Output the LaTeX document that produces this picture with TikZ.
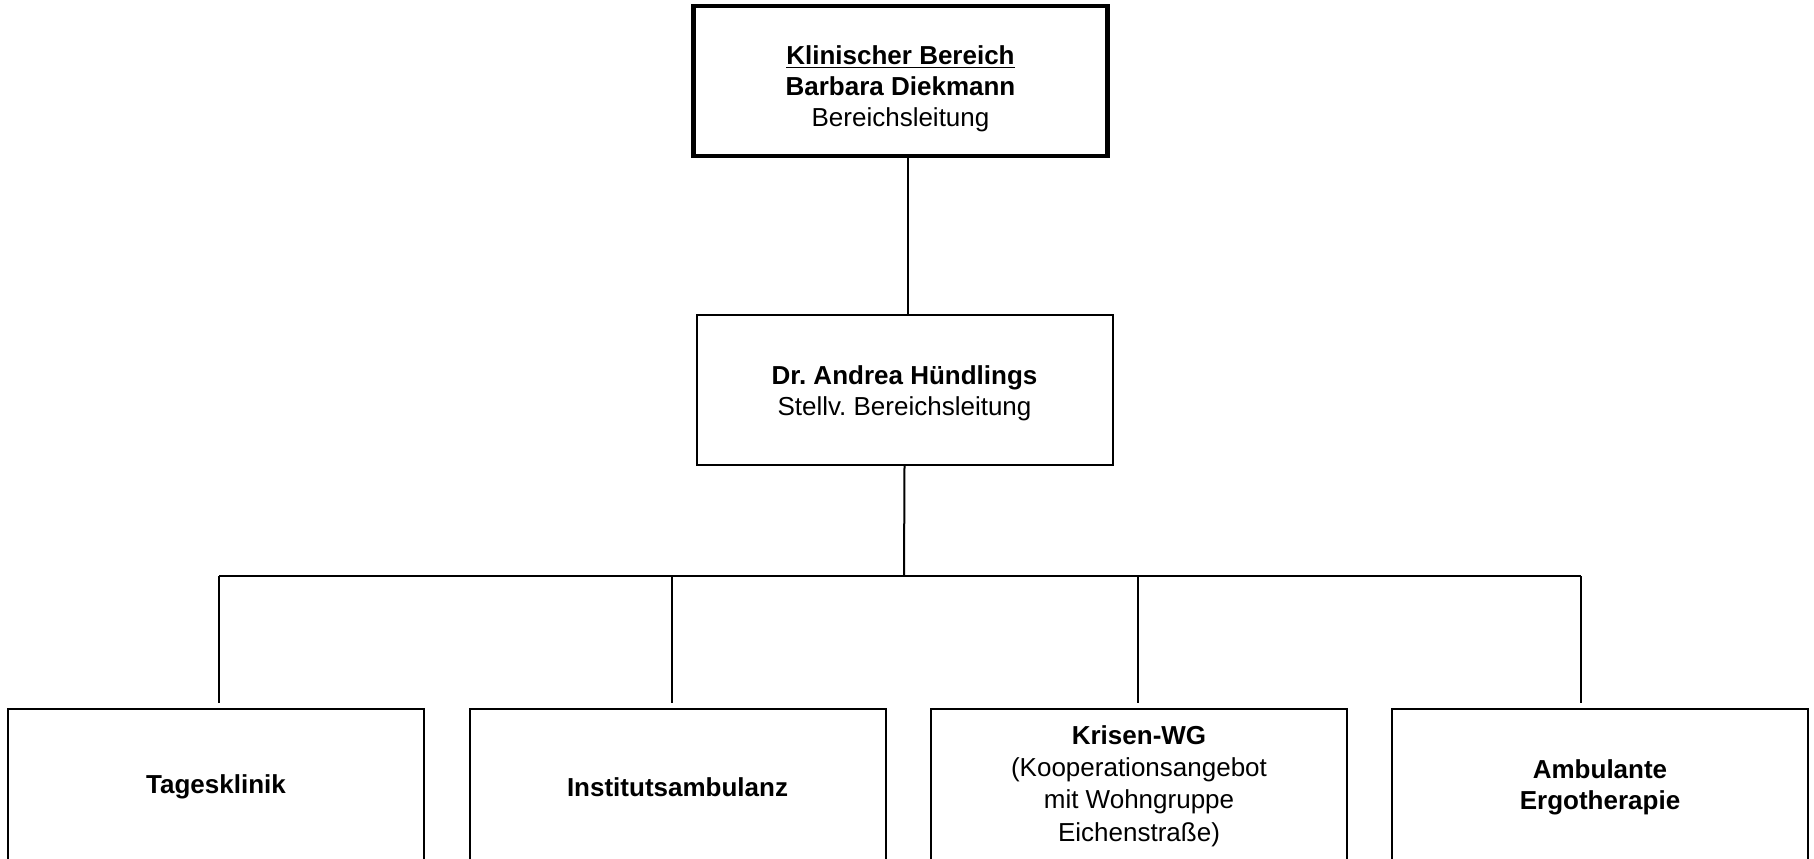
\documentclass[tikz,border=0pt]{standalone}
\usepackage{fontspec}
\setmainfont{Liberation Sans}
\usetikzlibrary{positioning}
\frenchspacing

\tikzset{
  unit/.style={draw, line width=1pt, minimum width=208pt, minimum height=75pt, inner sep=0pt},
  head/.style={unit, line width=2.3pt, minimum width=207pt},
  cut/.style={unit, minimum height=78pt},
  txt/.style={inner sep=0pt, align=center, font=\fontsize{13}{15.5}\selectfont},
  link/.style={line width=1pt}
}

\begin{document}
\begin{tikzpicture}[x=0.5pt, y=-0.5pt]
		\useasboundingbox (0,0) rectangle (1814,858);
		
		% draw boxes
		\node[head] (kb) at (900.5,81) {};
		\node[unit] (stv) at (904.5,389.5) {};
		\node[cut] (tk) at (216,787) {};
		\node[cut] (ia) at (677.5,787) {};
		\node[cut] (kwg) at (1139,787) {};
		\node[cut] (ergo) at (1600,787) {};
		
		% draw texts
		\node[txt] (kb-t) at ([yshift=-4pt]kb.center) {\underline{\textbf{Klinischer Bereich}}\\ \textbf{Barbara Diekmann}\\ Bereichsleitung};
		\node[txt] (stv-t) at ([yshift=-2pt]stv.center) {\textbf{Dr. Andrea Hündlings}\\ Stellv. Bereichsleitung};
		\node[txt] (tk-t) at (tk.center) {\textbf{Tagesklinik}};
		\node[txt] (ia-t) at (ia.center) {\textbf{Institutsambulanz}};
		\node[txt, font=\fontsize{13}{16.2}\selectfont] (kwg-t) at ([yshift=0.5pt]kwg.center) {\textbf{Krisen-WG}\\ (Kooperationsangebot\\ mit Wohngruppe\\ Eichenstraße)};
		\node[txt] (ergo-t) at (ergo.center) {\textbf{Ambulante}\\ \textbf{Ergotherapie}};
		
		% draw lines
		\coordinate (top) at (908,156);
		\draw[link] (top) -- (top |- stv.north);
		
		\coordinate (bus) at (904,576);
		\draw[link] (stv.south) -- (bus);
		\coordinate (b1) at (219,576);
		\coordinate (b2) at (672,576);
		\coordinate (b3) at (1138,576);
		\coordinate (b4) at (1581,576);
		\draw[link] (b1) -- (b4);
		
		\foreach \b/\n in {b1/tk, b2/ia, b3/kwg, b4/ergo}
		\draw[link, shorten >=2.5pt] (\b) -- (\b |- \n.north);
		
		\end{tikzpicture}
\end{document}
